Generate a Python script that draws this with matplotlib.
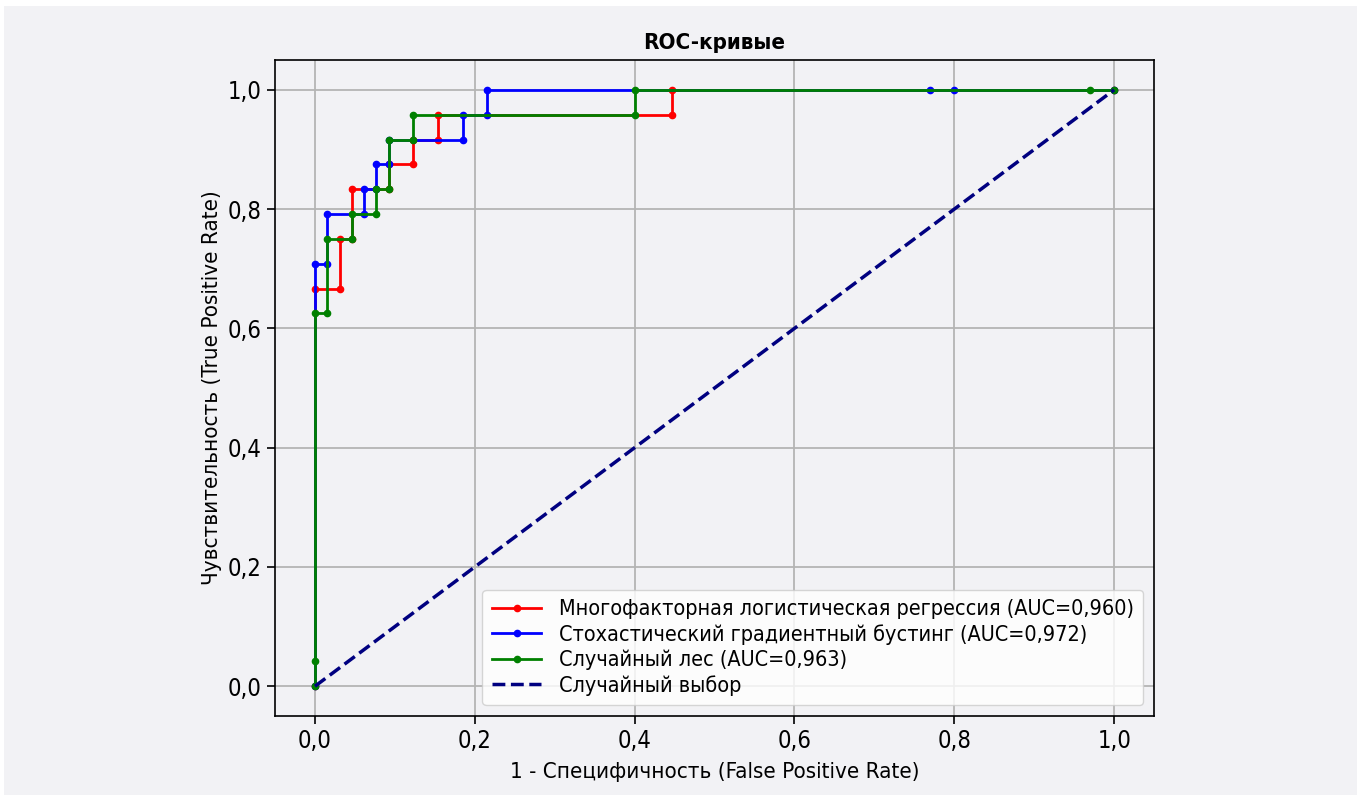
#!/usr/bin/python3
"""
ROC curves for three models
"""

import matplotlib
matplotlib.use("Agg")
import matplotlib.pyplot as plt
from matplotlib.patches import Rectangle

n_pos = 24
n_neg = 65

# corner points of each ROC curve, as (false positives, true positives) counts
lr_fp = [0, 0, 2, 2, 3, 3, 6, 6, 8, 8, 10, 10, 29, 29, 65]
lr_tp = [0, 16, 16, 18, 18, 20, 20, 21, 21, 22, 22, 23, 23, 24, 24]

gb_fp = [0, 0, 1, 1, 4, 4, 5, 5, 6, 6, 12, 12, 14, 14, 50, 52, 65]
gb_tp = [0, 17, 17, 19, 19, 20, 20, 21, 21, 22, 22, 23, 23, 24, 24, 24, 24]

rf_fp = [0, 0, 0, 1, 1, 3, 3, 5, 5, 6, 6, 8, 8, 26, 26, 63, 65]
rf_tp = [0, 1, 15, 15, 18, 18, 19, 19, 20, 20, 22, 22, 23, 23, 24, 24, 24]

auc_lr = "0,960"
auc_gb = "0,972"
auc_rf = "0,963"

ticks = [0.0, 0.2, 0.4, 0.6, 0.8, 1.0]
tick_labels = ["0,0", "0,2", "0,4", "0,6", "0,8", "1,0"]

bg = "#f2f2f5"

if __name__ == "__main__":
    plt.rcParams['font.family'] = ['DejaVu Sans']
    plt.rcParams['font.stretch'] = 'condensed'

    fig = plt.figure(figsize=(13.65, 8.01), dpi=100, facecolor="white")
    fig.patches.append(Rectangle((4 / 1365, 6 / 801), 1353 / 1365, 789 / 801,
                                 transform=fig.transFigure, facecolor=bg,
                                 edgecolor="none", zorder=-10))
    ax = fig.add_axes([0.2015, 0.1061, 0.6440, 0.8190])
    ax.set_facecolor(bg)

    curves = [
        (lr_fp, lr_tp, "red", "Многофакторная логистическая регрессия (AUC={})".format(auc_lr)),
        (gb_fp, gb_tp, "blue", "Стохастический градиентный бустинг (AUC={})".format(auc_gb)),
        (rf_fp, rf_tp, "green", "Случайный лес (AUC={})".format(auc_rf)),
    ]
    for fp, tp, col, lab in curves:
        ax.plot([f / n_neg for f in fp], [t / n_pos for t in tp],
                color=col, marker=".", markersize=9, linewidth=2, label=lab)

    ax.plot([0, 1], [0, 1], color="navy", linestyle="--", linewidth=2.5,
            label="Случайный выбор")

    ax.set_xticks(ticks)
    ax.set_xticklabels(tick_labels)
    ax.set_yticks(ticks)
    ax.set_yticklabels(tick_labels)
    ax.tick_params(labelsize=17, length=6, width=1.2)
    ax.grid(True, color="#b4b4b4", linewidth=1.3)
    ax.set_axisbelow(True)
    for s in ax.spines.values():
        s.set_linewidth(1.2)

    ax.set_title("ROC-кривые", fontsize=16, fontweight="bold", pad=8)
    ax.set_xlabel("1 - Специфичность (False Positive Rate)", fontsize=16, labelpad=6)
    ax.set_ylabel("Чувствительность (True Positive Rate)", fontsize=16)

    ax.legend(loc="lower right", fontsize=15.5, framealpha=0.8,
              handlelength=2.3, borderpad=0.45, labelspacing=0.22)

    fig.savefig("out.png", dpi=100, facecolor=fig.get_facecolor())
